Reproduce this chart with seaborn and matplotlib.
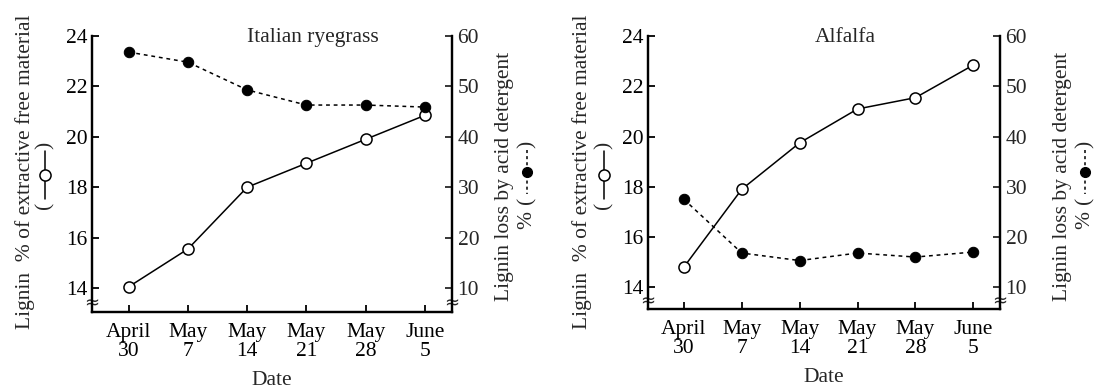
import pandas as pd
import matplotlib
matplotlib.use("Agg")
import matplotlib.pyplot as plt
import matplotlib.transforms as mtransforms
from matplotlib.lines import Line2D
import seaborn as sns

sns.set_style("white")
plt.rcParams['font.family'] = ['Liberation Serif', 'DejaVu Sans']
plt.rcParams['font.size'] = 15.5

# data
dates = ["April\n30", "May\n7", "May\n14", "May\n21", "May\n28", "June\n5"]
rye_efm = [14.05, 15.55, 18.0, 18.95, 19.9, 20.85]   # lignin % of extractive free material
rye_loss = [56.8, 54.8, 49.3, 46.3, 46.3, 45.9]      # lignin loss by acid detergent %
alf_efm = [14.8, 17.9, 19.75, 21.1, 21.55, 22.85]
alf_loss = [27.5, 16.8, 15.3, 16.8, 16.0, 17.0]

left_ticks = [14, 16, 18, 20, 22, 24]
right_ticks = [10, 20, 30, 40, 50, 60]

W, H = 1102, 389
fig = plt.figure(figsize=(W / 100, H / 100), dpi=100)


def panel(rect, title, title_x, efm, loss, ybottom):
    df = pd.DataFrame({'pos': range(len(dates)), 'efm': efm, 'loss': loss})
    ax = fig.add_axes(rect)
    ax2 = ax.twinx()

    sns.lineplot(data=df, x='pos', y='efm', ax=ax, color='black', lw=1.1,
                 marker='o', markersize=8, markerfacecolor='white',
                 markeredgecolor='black', markeredgewidth=1.1, sort=False)
    sns.lineplot(data=df, x='pos', y='loss', ax=ax2, color='black', lw=1.1,
                 marker='o', markersize=7.5, markerfacecolor='black',
                 markeredgecolor='black', linestyle=(0, (2.5, 2.5)), sort=False)

    ax.set_xlim(-0.62, 5.46)
    ax.set_ylim(ybottom, 24)
    # right axis is tied to the left one: 14 <-> 10, 24 <-> 60
    ax2.set_ylim(10 + 5 * (ybottom - 14), 60)

    ax.set_xticks(range(len(dates)))
    ax.set_xticklabels(dates, linespacing=1.0)
    ax.set_yticks(left_ticks)
    ax2.set_yticks(right_ticks)
    ax.set_xlabel('Date', labelpad=7)
    ax.set_ylabel('')
    ax2.set_ylabel('')

    for a in (ax, ax2):
        a.spines['top'].set_visible(False)
        for s in ('left', 'right', 'bottom'):
            a.spines[s].set_linewidth(1.6)
            a.spines[s].set_color('black')
    ax.tick_params(axis='both', direction='in', length=5, width=1.3,
                   colors='black', labelsize=15.5)
    ax.tick_params(axis='x', pad=8, bottom=True)
    ax.tick_params(axis='y', pad=3, left=True)
    ax2.tick_params(axis='y', direction='in', length=5, width=1.3, pad=4,
                    right=True, labelsize=15.5)

    ax.text(title_x, 0.995, title, transform=ax.transAxes, ha='center',
            va='center', fontsize=15.5)

    # axis break marks
    yb = ybottom + 0.33
    tr = mtransforms.blended_transform_factory(ax.transAxes, ax.transData)
    for xa in (0, 1):
        ax.text(xa, yb, '≈', transform=tr, ha='center', va='center',
                fontsize=13, clip_on=False, zorder=5, family='DejaVu Sans')
    return ax, ax2


def key(x, yc, filled):
    # small vertical "(—o—)" / "(---●---)" key drawn in pixel coords
    fx = x / W
    if filled:
        fig.text(fx, 1 - (yc - 28) / H, ')', rotation=90, ha='center', va='center')
        fig.text(fx, 1 - (yc + 28) / H, '(', rotation=90, ha='center', va='center')
        fig.text(fx, 1 - (yc + 48) / H, '%', rotation=90, ha='center', va='center')
        fig.add_artist(Line2D([fx, fx], [1 - (yc - 22) / H, 1 - (yc + 22) / H],
                              transform=fig.transFigure, color='black', lw=1.1,
                              linestyle=(0, (2, 2))))
        fig.add_artist(Line2D([fx], [1 - yc / H], transform=fig.transFigure,
                              marker='o', markersize=7, color='black'))
    else:
        fig.text(fx, 1 - (yc - 30) / H, ')', rotation=90, ha='center', va='center')
        fig.text(fx, 1 - (yc + 30) / H, '(', rotation=90, ha='center', va='center')
        fig.add_artist(Line2D([fx, fx], [1 - (yc - 24) / H, 1 - (yc + 24) / H],
                              transform=fig.transFigure, color='black', lw=1.1))
        fig.add_artist(Line2D([fx], [1 - yc / H], transform=fig.transFigure,
                              marker='o', markersize=8, markerfacecolor='white',
                              markeredgecolor='black', markeredgewidth=1.1))


panel([0.0835, 0.198, 0.3267, 0.7095], 'Italian ryegrass', 0.614,
      rye_efm, rye_loss, 13.05)
panel([0.588, 0.205, 0.3194, 0.702], 'Alfalfa', 0.56,
      alf_efm, alf_loss, 13.12)

lab1 = 'Lignin  % of extractive free material'
lab3 = 'Lignin loss by acid detergent'
for x1, x2, x3, x4 in ((25, 45, 505, 527), (582, 604, 1062, 1085)):
    fig.text(x1 / W, 1 - 172 / H, lab1, rotation=90, ha='center', va='center')
    key(x2, 175, False)
    fig.text(x3 / W, 1 - 176 / H, lab3, rotation=90, ha='center', va='center')
    key(x4, 172, True)

fig.savefig('out.png', dpi=100)
